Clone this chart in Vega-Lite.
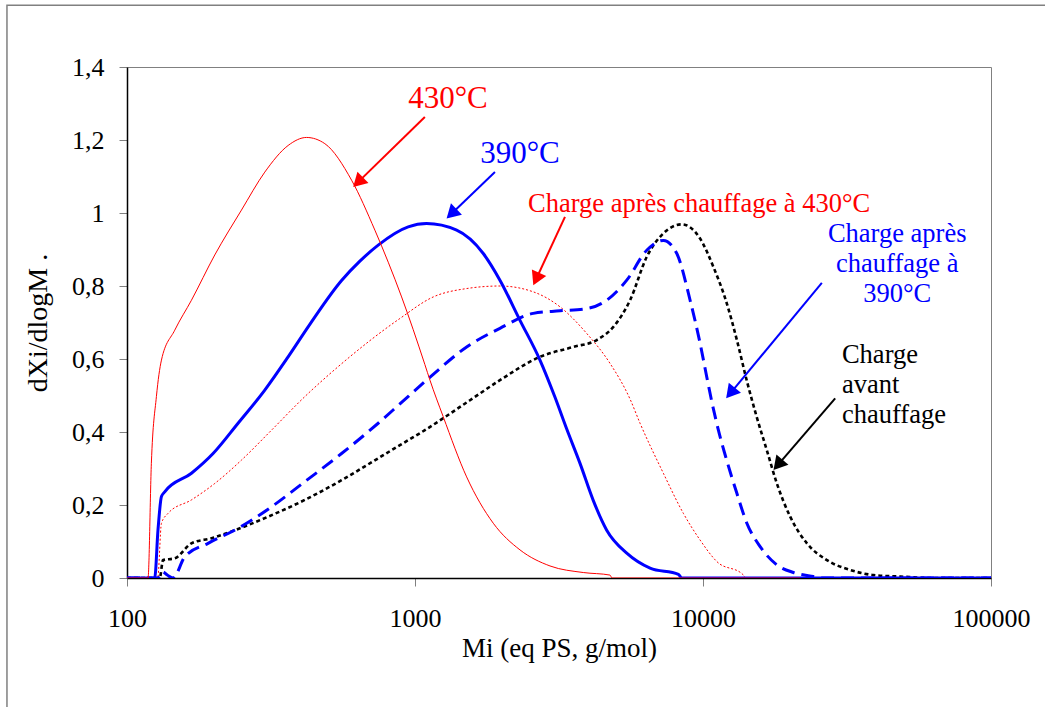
{
  "$schema": "https://vega.github.io/schema/vega-lite/v6.json",
  "width": 864,
  "height": 511,
  "autosize": "none",
  "padding": {"left": 127, "top": 67, "right": 54, "bottom": 129},
  "background": "white",
  "config": {
    "view": {"stroke": "#808080", "strokeWidth": 1},
    "font": "Liberation Serif",
    "axis": {"labelFont": "Liberation Serif", "titleFont": "Liberation Serif", "labelColor": "black", "titleColor": "black", "titleFontWeight": "normal", "grid": false, "domainColor": "black", "domainWidth": 1.5, "tickColor": "#808080", "tickSize": 8, "labelOverlap": false, "labelFlush": false}
  },
  "datasets": {
    "s430": [{"M":100,"v":0},{"M":118.3,"v":0},{"M":121.5,"v":0.314},{"M":126.5,"v":0.497},{"M":131.7,"v":0.597},{"M":146.5,"v":0.679},{"M":167.4,"v":0.761},{"M":201.7,"v":0.885},{"M":249.7,"v":1.008},{"M":300.9,"v":1.112},{"M":362.6,"v":1.185},{"M":420.2,"v":1.207},{"M":486.3,"v":1.19},{"M":602.2,"v":1.09},{"M":725.6,"v":0.953},{"M":898.5,"v":0.77},{"M":1082,"v":0.585},{"M":1127,"v":0.542},{"M":1253,"v":0.442},{"M":1511,"v":0.277},{"M":1870,"v":0.15},{"M":2315,"v":0.077},{"M":2943,"v":0.033},{"M":3840,"v":0.015},{"M":4755,"v":0.008},{"M":4832,"v":0},{"M":21750,"v":0}],
    "s390": [{"M":100,"v":0},{"M":124.8,"v":0},{"M":128.1,"v":0.131},{"M":131.7,"v":0.223},{"M":135.2,"v":0.236},{"M":167.4,"v":0.287},{"M":199,"v":0.341},{"M":243,"v":0.424},{"M":300.9,"v":0.515},{"M":362.6,"v":0.606},{"M":431.4,"v":0.695},{"M":555.9,"v":0.815},{"M":643.6,"v":0.868},{"M":745,"v":0.912},{"M":947.1,"v":0.962},{"M":1097,"v":0.971},{"M":1395,"v":0.953},{"M":1726,"v":0.889},{"M":1972,"v":0.816},{"M":2315,"v":0.706},{"M":2716,"v":0.597},{"M":3063,"v":0.495},{"M":3364,"v":0.408},{"M":3741,"v":0.314},{"M":4161,"v":0.212},{"M":4631,"v":0.131},{"M":5436,"v":0.068},{"M":6550,"v":0.027},{"M":8214,"v":0.01},{"M":8440,"v":0},{"M":100000,"v":0}],
    "c430": [{"M":100,"v":0},{"M":127.8,"v":0},{"M":131.7,"v":0.15},{"M":138.8,"v":0.177},{"M":167.4,"v":0.214},{"M":201.7,"v":0.259},{"M":249.7,"v":0.323},{"M":317.5,"v":0.405},{"M":414.5,"v":0.497},{"M":540.9,"v":0.579},{"M":886.4,"v":0.711},{"M":1157,"v":0.77},{"M":1511,"v":0.793},{"M":1972,"v":0.8},{"M":2574,"v":0.784},{"M":3187,"v":0.743},{"M":3947,"v":0.67},{"M":4755,"v":0.588},{"M":5582,"v":0.49},{"M":6045,"v":0.424},{"M":7284,"v":0.287},{"M":8549,"v":0.177},{"M":9770,"v":0.104},{"M":11170,"v":0.045},{"M":13820,"v":0.008},{"M":14000,"v":0}],
    "c390": [{"M":100,"v":0},{"M":128,"v":0},{"M":133,"v":0.017},{"M":138,"v":0.008},{"M":144.5,"v":0},{"M":158.7,"v":0.058},{"M":191.2,"v":0.095},{"M":243,"v":0.136},{"M":317.5,"v":0.195},{"M":414.5,"v":0.264},{"M":555.9,"v":0.341},{"M":745,"v":0.424},{"M":886.4,"v":0.477},{"M":1082,"v":0.538},{"M":1157,"v":0.558},{"M":1511,"v":0.633},{"M":1972,"v":0.684},{"M":2574,"v":0.725},{"M":3187,"v":0.732},{"M":3947,"v":0.738},{"M":4631,"v":0.761},{"M":5436,"v":0.816},{"M":6379,"v":0.898},{"M":7284,"v":0.925},{"M":8110,"v":0.889},{"M":9020,"v":0.761},{"M":9770,"v":0.643},{"M":10310,"v":0.55},{"M":10730,"v":0.483},{"M":11310,"v":0.405},{"M":11940,"v":0.337},{"M":13110,"v":0.232},{"M":14200,"v":0.15},{"M":15790,"v":0.086},{"M":18050,"v":0.036},{"M":20610,"v":0.015},{"M":24190,"v":0.004},{"M":26000,"v":0},{"M":100000,"v":0}],
    "c0": [{"M":100,"v":0},{"M":129.9,"v":0},{"M":133.4,"v":0.049},{"M":146.5,"v":0.054},{"M":167.4,"v":0.095},{"M":196.5,"v":0.109},{"M":236.7,"v":0.131},{"M":309,"v":0.168},{"M":414.5,"v":0.214},{"M":555.9,"v":0.268},{"M":745,"v":0.328},{"M":886.4,"v":0.364},{"M":1082,"v":0.405},{"M":1552,"v":0.487},{"M":1972,"v":0.542},{"M":2716,"v":0.606},{"M":3545,"v":0.633},{"M":4276,"v":0.652},{"M":4883,"v":0.688},{"M":5582,"v":0.761},{"M":6379,"v":0.88},{"M":7284,"v":0.944},{"M":8440,"v":0.969},{"M":9770,"v":0.93},{"M":10870,"v":0.852},{"M":12100,"v":0.752},{"M":13110,"v":0.652},{"M":14200,"v":0.54},{"M":15380,"v":0.44},{"M":16660,"v":0.35},{"M":18050,"v":0.259},{"M":20080,"v":0.168},{"M":22950,"v":0.095},{"M":26930,"v":0.049},{"M":32440,"v":0.022},{"M":39090,"v":0.008},{"M":48410,"v":0.004},{"M":61530,"v":0},{"M":100000,"v":0}]
  },
  "encoding": {
    "x": {"field": "M", "type": "quantitative", "scale": {"type": "log", "domain": [100, 100000], "nice": false},
          "axis": {"title": "Mi (eq PS, g/mol)", "values": [100, 1000, 10000, 100000], "format": "d", "labelFontSize": 26, "labelPadding": 19, "titleFontSize": 27, "titlePadding": 4}},
    "y": {"field": "v", "type": "quantitative", "scale": {"domain": [0, 1.4], "nice": false, "zero": true},
          "axis": {"title": "dXi/dlogM .", "values": [0, 0.2, 0.4, 0.6, 0.8, 1, 1.2, 1.4], "labelExpr": "replace(format(datum.value, '~g'), '.', ',')", "labelFontSize": 26, "labelPadding": 15, "titleFontSize": 28, "titlePadding": 19}}
  },
  "layer": [
    {"data": {"name": "c430"}, "mark": {"type": "line", "color": "#FF0000", "strokeWidth": 1, "strokeDash": [2, 2], "interpolate": "monotone", "clip": true}},
    {"data": {"name": "c0"}, "mark": {"type": "line", "color": "#000000", "strokeWidth": 2.6, "strokeDash": [4, 3], "interpolate": "monotone", "clip": true}},
    {"data": {"name": "c390"}, "mark": {"type": "line", "color": "#0000FF", "strokeWidth": 3, "strokeDash": [13, 7], "interpolate": "monotone", "clip": true}},
    {"data": {"name": "s390"}, "mark": {"type": "line", "color": "#0000FF", "strokeWidth": 3, "interpolate": "monotone", "clip": true}},
    {"data": {"name": "s430"}, "mark": {"type": "line", "color": "#FF0000", "strokeWidth": 1, "interpolate": "monotone", "clip": true}},
    {
      "data": {"values": [{"M": 1082, "v": 1.263, "M2": 634.3, "v2": 1.0846}, {"M": 3317, "v": 0.9893, "M2": 2635, "v2": 0.8193}]},
      "mark": {"type": "rule", "color": "#FF0000", "strokeWidth": 2},
      "encoding": {"x2": {"field": "M2"}, "y2": {"field": "v2"}}
    },
    {
      "data": {"values": [{"M": 1895, "v": 1.1125, "M2": 1339, "v2": 0.998}, {"M": 25860, "v": 0.8086, "M2": 12460, "v2": 0.5066}]},
      "mark": {"type": "rule", "color": "#0000FF", "strokeWidth": 2},
      "encoding": {"x2": {"field": "M2"}, "y2": {"field": "v2"}}
    },
    {
      "data": {"values": [{"M": 28770, "v": 0.492, "M2": 18210, "v2": 0.31}]},
      "mark": {"type": "rule", "color": "#000000", "strokeWidth": 2},
      "encoding": {"x2": {"field": "M2"}, "y2": {"field": "v2"}}
    },
    {"data": {"values": [{"M": 634.3, "v": 1.0846}]}, "mark": {"type": "point", "shape": "triangle-up", "filled": true, "opacity": 1, "size": 250, "angle": 225.7, "color": "#FF0000"}},
    {"data": {"values": [{"M": 2635, "v": 0.8193}]}, "mark": {"type": "point", "shape": "triangle-up", "filled": true, "opacity": 1, "size": 250, "angle": 204.9, "color": "#FF0000"}},
    {"data": {"values": [{"M": 1339, "v": 0.998}]}, "mark": {"type": "point", "shape": "triangle-up", "filled": true, "opacity": 1, "size": 250, "angle": 226, "color": "#0000FF"}},
    {"data": {"values": [{"M": 12460, "v": 0.5066}]}, "mark": {"type": "point", "shape": "triangle-up", "filled": true, "opacity": 1, "size": 250, "angle": 219.6, "color": "#0000FF"}},
    {"data": {"values": [{"M": 18210, "v": 0.31}]}, "mark": {"type": "point", "shape": "triangle-up", "filled": true, "opacity": 1, "size": 250, "angle": 220.7, "color": "#000000"}},
    {
      "data": {"values": [{"t": "430°C", "M": 1301, "v": 1.287}]},
      "mark": {"type": "text", "font": "Liberation Serif", "fontSize": 31, "color": "#FF0000", "align": "center", "baseline": "alphabetic"},
      "encoding": {"text": {"field": "t"}}
    },
    {
      "data": {"values": [{"t": "390°C", "M": 2315, "v": 1.1364}]},
      "mark": {"type": "text", "font": "Liberation Serif", "fontSize": 31, "color": "#0000FF", "align": "center", "baseline": "alphabetic"},
      "encoding": {"text": {"field": "t"}}
    },
    {
      "data": {"values": [{"t": "Charge après chauffage à 430°C", "M": 9692, "v": 1.0022}]},
      "mark": {"type": "text", "font": "Liberation Serif", "fontSize": 26.5, "color": "#FF0000", "align": "center", "baseline": "alphabetic"},
      "encoding": {"text": {"field": "t"}}
    },
    {
      "data": {"values": [{"t": ["Charge après", "chauffage à", "390°C"], "M": 47250, "v": 0.9209}]},
      "mark": {"type": "text", "font": "Liberation Serif", "fontSize": 26.5, "lineHeight": 30, "color": "#0000FF", "align": "center", "baseline": "alphabetic"},
      "encoding": {"text": {"field": "t"}}
    },
    {
      "data": {"values": [{"t": ["Charge", "avant", "chauffage"], "M": 30370, "v": 0.5879}]},
      "mark": {"type": "text", "font": "Liberation Serif", "fontSize": 26.5, "lineHeight": 30, "color": "#000000", "align": "left", "baseline": "alphabetic"},
      "encoding": {"text": {"field": "t"}}
    },
    {
      "data": {"values": [{"M": 38.3, "v": 1.569, "M2": 174100, "v2": -0.389}]},
      "mark": {"type": "rect", "filled": false, "stroke": "#808080", "strokeWidth": 1.5, "clip": false},
      "encoding": {"x2": {"field": "M2"}, "y2": {"field": "v2"}}
    }
  ]
}
